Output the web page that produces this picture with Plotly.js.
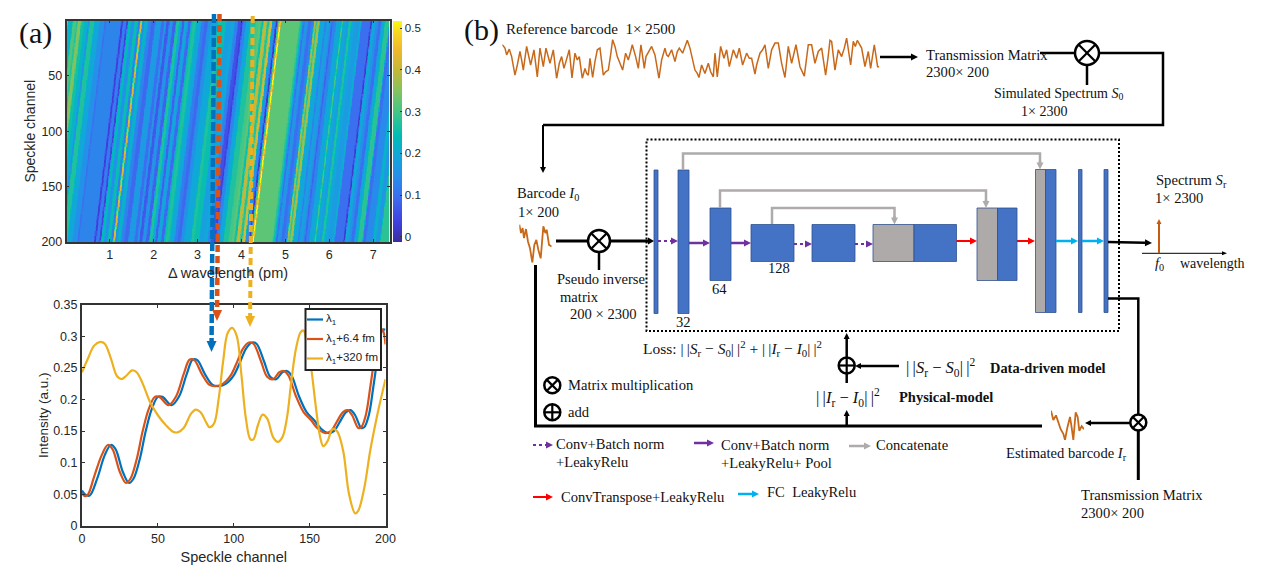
<!DOCTYPE html>
<html><head><meta charset="utf-8">
<script src="https://cdn.plot.ly/plotly-3.0.1.min.js"></script>
<style>html,body{margin:0;padding:0;background:#fff}#chart{width:1269px;height:565px}</style>
</head><body><div id="chart"></div>
<script>
const W = 1269, H = 565;
const SANS = 'Liberation Sans, Arial, sans-serif', SERIF = 'Liberation Serif, Times New Roman, serif';

// ---- panel (a): stripe pattern read along the top row of the heat map
const stripeWidth = [5,15,10,5,10,10,10,5,15,15,15,5,45,6,9,6,9,10,10,7,6,7,10,10,13,17,10,5,10,10,10,
  10,7,8,10,10,5,10,5,10,10,10,10,7,13,10,15,15,10,10,10,5,10,12,16,10,7,7,10,8,8,10,6,5,5,16,
  40,6,4,5,10,10,8,5,5,7,15,5,10,5,5,10,15,5,10,7,8,10,15,5,27,5,10,8,10,10,15,
  10,20,10,12,40];
const stripeValue = [.36,.22,.31,.27,.35,.26,.22,.15,.27,.2,.15,.1,.13,.03,.12,.04,.24,.15,.25,.12,.43,.15,.22,.13,.09,.17,.1,.17,.07,.16,.08,
  .27,.2,.08,.2,.09,.25,.27,.22,.2,.12,.09,.15,.2,.2,.27,.25,.18,.2,.13,.06,.03,.13,.2,.27,.3,.32,.25,.4,.27,.42,.15,.02,.3,.53,.32,
  .32,.27,.2,.1,.16,.1,.13,.38,.28,.38,.2,.12,.18,.15,.08,.13,.2,.3,.2,.17,.27,.2,.17,.22,.1,.02,.2,.15,.1,.2,.28,
  .1,.14,.22,.16,.28];
const stripeUnitPm = 0.00759, stripeOriginPm = 0.016, driftPm = 0.626;
const wavelengthRange = [0.016, 7.37], channelRange = [200, 0];
const cbTicks = [0, .1, .2, .3, .4, .5];
const parula = [[0,'#3a2e9e'],[.09,'#4040e0'],[.2,'#3d6cf0'],[.3,'#2590ea'],[.4,'#10a8d8'],[.48,'#00bcb4'],[.58,'#3cc68a'],[.68,'#80c460'],[.77,'#c0b83a'],[.87,'#f0b82d'],[.95,'#f8d820'],[1,'#f8fa14']];

// ---- panel (a): line plot
const blueX = [0,2,5,10,15,19,22,27,31,34,38,42,46,50,53,59,64,69,73,76,81,86,90,95,100,104,108,112,115,120,124,128,132,135,138,143,148,153,157,162,166,170,174,177,180,184,186,189,192,195,198,200];
const blueY = [.056,.05,.048,.075,.112,.128,.122,.085,.068,.075,.105,.15,.185,.204,.204,.191,.205,.24,.263,.262,.24,.223,.221,.225,.238,.258,.28,.29,.288,.26,.236,.232,.243,.245,.238,.205,.18,.167,.155,.147,.15,.165,.18,.183,.175,.155,.156,.175,.22,.27,.31,.31];
const redX = [0,2,4,8,13,17,20,25,29,32,36,40,44,48,51,57,62,67,71,74,79,84,88,93,98,102,106,110,113,118,122,126,130,133,136,141,146,151,155,160,164,168,172,175,178,182,184,187,190,193,196,198,200];
const redY = [.052,.047,.05,.078,.112,.128,.122,.085,.068,.075,.105,.15,.185,.204,.204,.191,.205,.24,.263,.262,.24,.223,.221,.225,.238,.258,.28,.29,.288,.26,.236,.232,.243,.245,.238,.205,.18,.167,.155,.147,.15,.165,.18,.183,.175,.155,.156,.175,.22,.27,.31,.31,.287];
const yellowX = [0,4,8,12,15,19,23,26,29,33,36,40,45,50,55,60,63,67,72,75,78,82,84,87,90,93,96,99,102,105,108,111,113,116,119,122,126,129,132,135,138,141,144,146,148,151,154,157,159,162,165,168,172,176,180,182,186,190,195,200];
const yellowY = [.243,.265,.285,.291,.288,.265,.237,.232,.237,.246,.243,.225,.195,.175,.16,.149,.148,.155,.178,.184,.18,.163,.156,.162,.2,.26,.305,.313,.3,.24,.17,.137,.137,.16,.176,.17,.14,.133,.14,.17,.23,.28,.306,.309,.29,.25,.19,.14,.126,.135,.153,.15,.12,.05,.02,.024,.06,.12,.18,.232];
const seriesNames = ['λ<sub>1</sub>','λ<sub>1</sub>+6.4 fm','λ<sub>1</sub>+320 fm'];
const seriesColors = ['#0072BD','#D95319','#EDB120'];

// ---- panel (b): barcodes
const refSample = [127,135,140,148,155,165,172,180,185,190,200,205,212,222,227,232,240,245,250,258,264,270,280,285,290,298,305,312,320,328,336,345,352,358,367,375,380,385,390,398,405,412,420,425,430,437,445,452,458,465,472,480,488,497,505,512,517,527,535,543,548,553,558,566,575,585,592,597,605,615,620,625,635,645,652,658,668,675,682,690,695,705,712,717,725,730,735,745,752,760,765,772,782,792,800,808,814,820,830,838,848,855,860,868,875,885,890,900,908,915,925,935,945,955,960,965,975,985,995,1008,1020,1033,1045,1055,1065,1075,1085,1092,1097,1104,1110,1115,1125,1135,1145,1153,1160,1172,1180,1186,1192,1205,1215,1225,1232,1243,1253,1258];
const refValue = [100,90,70,87,65,10,40,80,55,25,95,70,40,85,50,5,90,60,35,90,65,45,85,40,0,45,65,30,60,85,2,75,55,65,0,30,15,10,60,3,50,85,90,40,10,20,25,70,115,95,65,45,25,75,55,80,100,65,30,100,60,30,65,80,95,70,30,0,55,90,70,65,85,50,80,90,75,95,113,90,65,25,15,3,40,25,15,45,20,5,75,5,95,60,85,35,60,85,60,90,40,65,75,60,60,13,40,75,85,100,30,85,105,105,70,45,3,95,45,100,35,7,100,100,45,80,90,40,10,60,113,110,25,85,65,90,120,40,110,95,113,90,35,80,30,100,35,35];
const i0Sample = [58,63,68,72,78,84,90,97,103,109,115,122,130,136,140,147,155];
const i0Value = [113,88,103,73,100,63,43,0,53,68,38,13,108,88,98,53,48];
const irSample = [453,460,468,475,482,490,495,502,510,515,520,527,533,538,545,552];
const irValue = [95,65,80,60,35,20,0,40,75,40,0,90,75,30,45,35];

// ---- diagram: text labels
const nb = '\u00A0', bars = '|\u2009|';
const normS = `${bars}<i>S</i><sub>r</sub>${nb}−${nb}<i>S</i><sub>0</sub>${bars}<sup>2</sup>`;
const normI = `${bars}<i>I</i><sub>r</sub>${nb}−${nb}<i>I</i><sub>0</sub>${bars}<sup>2</sup>`;
const S = 14.6;
const labels = [
 ['(a)',18,33,30],['(b)',463,30,30],
 ['Reference barcode  1× 2500',505,29,15],
 ['Transmission Matrix',925,55,S],['2300× 200',925,72,S],
 ['Simulated Spectrum <i>S</i><sub>0</sub>',993,94,14],['1× 2300',1020,111,14],
 ['Barcode <i>I</i><sub>0</sub>',516,194,S],['1× 200',517,212,S],
 ['Pseudo inverse',556,279,S],['matrix',559,297,S],['200 × 2300',569,314,S],
 ['32',675,322,S],['64',711,289,S],['128',767,268,S],
 ['Spectrum <i>S</i><sub>r</sub>',1155,181,S],['1× 2300',1154,198,S],
 ['<i>f</i><sub>0</sub>',1154,264,S],['wavelength',1179,263,14],
 [`Loss:${nb}${normS}${nb}+${nb}${normI}`,642,348,15.5],
 [normS,905,367,16.5],
 ['<b>Data-driven model</b>',989,367,14.4],
 [normI,815,397,16.5],
 ['<b>Physical-model</b>',898,396,14.5],
 ['Matrix multiplication',567,385,S],['add',567,412,S],
 ['Conv+Batch norm',555,444,S],['+LeakyRelu',555,462,S],
 ['Conv+Batch norm',720,445,S],['+LeakyRelu+ Pool',720,463,S],
 ['Concatenate',875,445,S],
 ['ConvTranspose+LeakyRelu',560,497,S],['FC  LeakyRelu',766,492,S],
 ['Estimated barcode <i>I</i><sub>r</sub>',1005,454,S],
 ['Transmission Matrix',1080,495,S],['2300× 200',1080,513,S]
];

// ---- diagram: layer blocks [x0, x1, y0, y1, colour]
const BLUE='#4472C4', GREY='#AEAAAA', EDGE='#2F528F';
const blocks = [
 [654,658,170,313.5,BLUE],[678,689,170,313.5,BLUE],[710,731,208,280.5,BLUE],
 [751,794,224.5,261.5,BLUE],[812,855,224.5,261.5,BLUE],
 [873,914,224.5,261.5,GREY],[914,956.5,224.5,261.5,BLUE],
 [977,997.5,208,280.5,GREY],[997.5,1017,208,280.5,BLUE],
 [1035.5,1045.5,169.5,312.5,GREY],[1045.5,1056,169.5,312.5,BLUE],
 [1078.5,1082,169.5,312.5,BLUE],[1104,1108,169.5,312.5,BLUE]
];
const PURPLE='#7030A0', RED='#FF0000', CYAN='#00B0F0', CONCAT='#AFABAB', INK='#000000', ORANGE='#C55A11';
// arrows [x1,y1,x2,y2,colour,width,dash,headLength,headHalfWidth]
const arrows = [
 [658,241,678,241,PURPLE,2,'3px,3px',7,3.5],[689,243,710,243,PURPLE,2.5,'',7,3.5],[731,243,751,243,PURPLE,2.5,'',7,3.5],
 [794,244,812,244,PURPLE,2,'3px,3px',7,3.5],[855,244,873,244,PURPLE,2,'3px,3px',7,3.5],
 [956.5,241,977,241,RED,2,'',7,3.5],[1017,241,1035,241,RED,2,'',7,3.5],
 [1056,241,1078,241,CYAN,2.5,'',7,3.5],[1082,241,1104,241,CYAN,2.5,'',7,3.5],
 [1108,242,1152,243,INK,2.5,'',7,3.5],
 [533,445,553,445,PURPLE,2,'3px,3px',7,3.5],[694,443,714,443,PURPLE,2.5,'',7,3.5],[849,446,871,446,CONCAT,2.5,'',7,3.5],
 [533,497,553,497,RED,2,'',7,3.5],[738,494,759,494,CYAN,2.5,'',7,3.5],
 [880,57,918,57,INK,2.5,'',7,3.5],[543,125,543,173,INK,2,'',6,3],
 [610,241,654,241,INK,3,'',6,3.5],[846.7,357,846.7,333,INK,2.5,'',6,3],[899,366,855,366,INK,2.5,'',6,3],
 [846.7,426,846.7,410,INK,2.5,'',6,3],[1130,423,1085,423,INK,2.5,'',6,3],
 [1142,253.3,1227,253.3,INK,1,'',5,2],[1159,253.3,1159,219,ORANGE,2,'',5,2.5]
];
// guide arrows from the heat map down to the line plot
const guides = [
 [214,14,211.5,352,seriesColors[0],4.5,'9px,3px',11,5],
 [219.5,14,217,321,seriesColors[1],4.5,'7px,4px',11,5],
 [252.7,16,250,327,seriesColors[2],4,'7px,4px',11,5]
];
// polylines [points, colour, width]
const wires = [
 [[[1040,53],[1075,53]],INK,2.5],[[[1099,53],[1163,53],[1163,125],[543,125]],INK,2.5],[[[1087,65],[1087,85]],INK,2.5],
 [[[556,241],[588,241]],INK,3],[[[599,252],[599,270]],INK,2.5],
 [[[535.5,265],[535.5,426],[1042,426]],INK,3],
 [[[846.7,374],[846.7,383]],INK,2.5],
 [[[1108,298.5],[1138.3,298.5],[1138.3,414]],INK,2.5],[[[1138.3,431],[1138.3,480]],INK,3],
 [[[683,170],[683,153.5],[1040,153.5],[1040,163]],CONCAT,2.5],
 [[[720,208],[720,190.5],[986,190.5],[986,202]],CONCAT,2.5],
 [[[772,224],[772,208],[894.5,208],[894.5,218]],CONCAT,2.5]
];
const concatHeads = [[1040,161,1040,169.5],[986,200,986,208],[894.5,216,894.5,224.5]];
// operator nodes [x,y,r,kind]
const nodes = [[1087,53,12,'x'],[599,241,11,'x'],[1138.3,422.5,8,'x'],[552.3,385.3,8,'x'],[846.7,365.5,8,'+'],[552.3,412.3,8,'+']];
// line plot legend key positions: sample x range, rows
const keyX = [307,323], keyRows = [319.5,339,358.5], legendBox = [305.5,309,381,370], keyTextX = 325;

// ---- helpers
const X = p => p / W, Y = p => 1 - p / H;
const shapes = [];
function line(pts, color, width, dash){
  shapes.push({type:'path', xref:'paper', yref:'paper', layer:'above',
    path: pts.map((p,i)=>(i?'L':'M')+X(p[0])+' '+Y(p[1])).join(' '),
    line:{color, width, dash: dash||'solid'}, fillcolor:'rgba(0,0,0,0)'});
}
function arrow(a){
  const [x1,y1,x2,y2,color,width,dash,hl,hw] = a;
  const L = Math.hypot(x2-x1,y2-y1), ux=(x2-x1)/L, uy=(y2-y1)/L;
  const bx = x2-ux*hl, by = y2-uy*hl;
  line([[x1,y1],[bx,by]], color, width, dash);
  const t = [[x2,y2],[bx-uy*hw,by+ux*hw],[bx+uy*hw,by-ux*hw]];
  shapes.push({type:'path', xref:'paper', yref:'paper', layer:'above',
    path: t.map((p,i)=>(i?'L':'M')+X(p[0])+' '+Y(p[1])).join(' ')+' Z',
    line:{width:0}, fillcolor:color});
}
blocks.forEach(b=>shapes.push({type:'rect',xref:'paper',yref:'paper',layer:'above',
  x0:X(b[0]),x1:X(b[1]),y0:Y(b[3]),y1:Y(b[2]),fillcolor:b[4],line:{color:EDGE,width:0.8}}));
const frame=[646.5,139.5,1119,331];
line([[frame[0],frame[1]],[frame[2],frame[1]],[frame[2],frame[3]],[frame[0],frame[3]],[frame[0],frame[1]]],INK,2,'2px,2px');
wires.forEach(w=>line(w[0],w[1],w[2]));
concatHeads.forEach(c=>arrow([c[0],c[1],c[2],c[3],CONCAT,2.5,'',7,3.5]));
arrows.forEach(arrow);
nodes.forEach(n=>{
  const [x,y,r,k]=n;
  shapes.push({type:'circle',xref:'paper',yref:'paper',layer:'above',x0:X(x-r),x1:X(x+r),y0:Y(y+r),y1:Y(y-r),fillcolor:'#fff',line:{color:INK,width:2.5}});
  if(k==='x'){const d=r*.707;line([[x-d,y-d],[x+d,y+d]],INK,2.2);line([[x-d,y+d],[x+d,y-d]],INK,2.2);}
  else{line([[x-r,y],[x+r,y]],INK,2.2);line([[x,y-r],[x,y+r]],INK,2.2);}
});
shapes.push({type:'rect',xref:'paper',yref:'paper',layer:'above',x0:X(legendBox[0]),x1:X(legendBox[2]),y0:Y(legendBox[3]),y1:Y(legendBox[1]),fillcolor:'#fff',line:{color:'#222',width:2}});
keyRows.forEach((r,i)=>line([[keyX[0],r],[keyX[1],r]],seriesColors[i],2.2));
guides.forEach(arrow);

// every label gets an explicit box so that its extent is declared
const plainLen = t => t.replace(/<[^>]+>/g,'').length;
const label = (text,x,y,family,size,color) => ({text,x:X(x),y:Y(y),xref:'paper',yref:'paper',xanchor:'left',yanchor:'middle',align:'left',valign:'middle',
  width:Math.ceil(plainLen(text)*size*0.62+6),height:Math.ceil(size*2),showarrow:false,borderpad:0,font:{family,size,color}});
const annotations = labels.map(l=>label(l[0],l[1],l[2],SERIF,l[3],'#111'));
keyRows.forEach((r,i)=>annotations.push(label(seriesNames[i],keyTextX,r,SANS,11.5,'#222')));

// heat map matrix: each row is the stripe pattern drifted along the wavelength axis
const edges=[0]; stripeWidth.forEach(w=>edges.push(edges[edges.length-1]+w));
const stripeAt=u=>{let k=0;while(k<stripeWidth.length-1&&edges[k+1]<=u)k++;return stripeValue[k];};
const xs=[],ys=[],zz=[];
for(let c=0;c<485;c++) xs.push(wavelengthRange[0]+(c+.5)*(wavelengthRange[1]-wavelengthRange[0])/485);
for(let r=1;r<=200;r+=2) ys.push(r);
ys.forEach(ch=>{
  zz.push(xs.map(x=>{
    const u=(x+driftPm*ch/200-stripeOriginPm)/stripeUnitPm;
    return (stripeAt(u-1.5)+stripeAt(u)+stripeAt(u+1.5))/3;
  }));
});

const axFont={family:SANS,size:12.5,color:'#262626'};
const base={showgrid:false,zeroline:false,showline:true,mirror:'ticks',linecolor:'#333',ticks:'inside',ticklen:3,tickcolor:'#333',tickfont:axFont};
const titleFont={family:SANS,size:14,color:'#262626'};
const sparkAxis=(l,r,t,b,xr,yr,n)=>({
  ['xaxis'+n]:{domain:[X(l),X(r)],range:xr,visible:false,anchor:'y'+n},
  ['yaxis'+n]:{domain:[Y(b),Y(t)],range:yr,visible:false,anchor:'x'+n}
});
const layout=Object.assign({
  width:W,height:H,margin:{l:0,r:0,t:0,b:0,pad:0},paper_bgcolor:'#fff',plot_bgcolor:'#fff',showlegend:false,
  shapes,annotations,
  xaxis:Object.assign({},base,{domain:[X(66.5),X(389.5)],range:wavelengthRange,tickvals:[1,2,3,4,5,6,7],linewidth:1.5,anchor:'y',
    title:{text:'Δ wavelength (pm)',font:{family:SANS,size:14.5,color:'#262626'},standoff:7}}),
  yaxis:Object.assign({},base,{domain:[Y(242),Y(20.5)],range:channelRange,tickvals:[50,100,150,200],linewidth:1.5,anchor:'x',
    title:{text:'Speckle channel',font:titleFont,standoff:2}}),
  xaxis2:Object.assign({},base,{domain:[X(82),X(385.5)],range:[0,200],tickvals:[0,50,100,150,200],linewidth:2,anchor:'y2',
    title:{text:'Speckle channel',font:{family:SANS,size:14.5,color:'#262626'},standoff:7}}),
  yaxis2:Object.assign({},base,{domain:[Y(526),Y(304.5)],range:[0,.35],tickvals:[0,.05,.1,.15,.2,.25,.3,.35],ticktext:['0','0.05','0.1','0.15','0.2','0.25','0.3','0.35'],linewidth:2,anchor:'x2',
    title:{text:'Intensity (a.u.)',font:{family:SANS,size:13.5,color:'#262626'},standoff:1}})
},
 sparkAxis(502.3,879.3,38,78.5,[127,1258],[0,120],3),
 sparkAxis(519.3,551.7,224,262.7,[58,155],[0,115],4),
 sparkAxis(1051,1084,407.7,440,[453,552],[0,105],5));

const spark=(x,y,n,w)=>({type:'scatter',mode:'lines',x,y,xaxis:'x'+n,yaxis:'y'+n,line:{color:'#C8691A',width:w},hoverinfo:'skip'});
const data=[
 {type:'heatmap',x:xs,y:ys,z:zz,zmin:-0.012,zmax:0.517,colorscale:parula,xaxis:'x',yaxis:'y',zsmooth:false,hoverinfo:'skip',
  colorbar:{x:X(393),xanchor:'left',y:Y(131.5),yanchor:'middle',thicknessmode:'pixels',thickness:9,lenmode:'pixels',len:221,xpad:0,ypad:0,
    outlinewidth:0,tickvals:cbTicks,ticktext:['0','0.1','0.2','0.3','0.4','0.5'],ticks:'inside',ticklen:2,tickcolor:'#333',tickfont:{family:SANS,size:11.5,color:'#262626'}}},
 {type:'scatter',mode:'lines',x:blueX,y:blueY,xaxis:'x2',yaxis:'y2',line:{color:seriesColors[0],width:2.2,shape:'spline'},name:'λ1'},
 {type:'scatter',mode:'lines',x:redX,y:redY,xaxis:'x2',yaxis:'y2',line:{color:seriesColors[1],width:2.2,shape:'spline'},name:'λ1+6.4 fm'},
 {type:'scatter',mode:'lines',x:yellowX,y:yellowY,xaxis:'x2',yaxis:'y2',line:{color:seriesColors[2],width:2.2,shape:'spline'},name:'λ1+320 fm'},
 spark(refSample,refValue,3,1.5),spark(i0Sample,i0Value,4,1.8),spark(irSample,irValue,5,1.8)
];
Plotly.newPlot('chart',data,layout,{displayModeBar:false});
</script></body></html>
